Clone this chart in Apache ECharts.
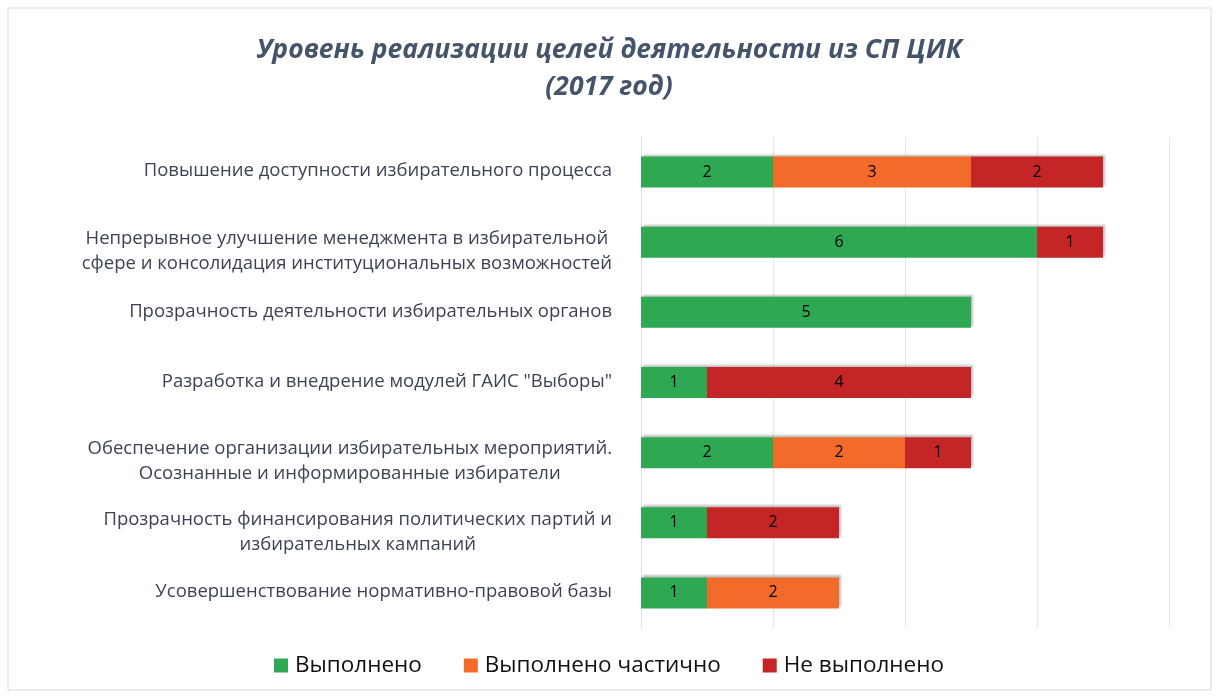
<!DOCTYPE html>
<html>
<head>
<meta charset="utf-8">
<script src="https://cdn.jsdelivr.net/npm/echarts@6/dist/echarts.min.js"></script>
<style>
  html, body { margin: 0; padding: 0; background: #fff; }
  #chart { width: 1218px; height: 698px; }
</style>
</head>
<body>
<div id="chart"></div>
<script>
const categories = [
  "Повышение доступности избирательного процесса",
  "Непрерывное улучшение менеджмента в избирательной\nсфере и консолидация институциональных возможностей",
  "Прозрачность деятельности избирательных органов",
  "Разработка и внедрение модулей ГАИС \"Выборы\"",
  "Обеспечение организации избирательных мероприятий.\nОсознанные и информированные избиратели",
  "Прозрачность финансирования политических партий и\nизбирательных кампаний",
  "Усовершенствование нормативно-правовой базы"
];
const done = [2, 6, 5, 1, 2, 1, 1];
const partly = [3, null, null, null, 2, null, 2];
const notDone = [2, 1, null, 4, 1, 2, null];

const seriesNames = ["Выполнено", "Выполнено частично", "Не выполнено"];
const colors = ["#2ea852", "#f26b2b", "#c42628"];
const font = "'Open Sans', 'Noto Sans', sans-serif";

const chart = echarts.init(document.getElementById("chart"));

function barSeries(name, data, color) {
  return {
    name: name,
    type: "bar",
    stack: "total",
    barWidth: 31,
    data: data,
    itemStyle: {
      color: color,
      shadowColor: "rgba(0,0,0,0.25)",
      shadowOffsetX: 2,
      shadowOffsetY: -2,
      shadowBlur: 2,
    },
    label: {
      show: true,
      position: "inside",
      color: "#000",
      fontFamily: font,
      fontSize: 16,
      formatter: (p) => (p.value ? p.value : ""),
    },
  };
}

// two-line labels sit a bit lower than the bar in the original
const yData = categories.map((c) => ({
  value: c,
  textStyle: { padding: c.indexOf("\n") >= 0 ? [18, 0, 0, 0] : [0, 0, 2, 0] },
}));

chart.setOption({
  animation: false,
  backgroundColor: "#fff",
  color: colors,
  title: {
    text: "Уровень реализации целей деятельности из СП ЦИК\n(2017 год)",
    left: "center",
    top: 27,
    textStyle: {
      fontFamily: font,
      fontStyle: "italic",
      fontWeight: "bold",
      fontSize: 26.5,
      lineHeight: 37,
      color: "#44546a",
    },
  },
  legend: {
    bottom: 16,
    left: "center",
    itemWidth: 14,
    itemHeight: 14,
    itemGap: 42,
    icon: "rect",
    data: seriesNames,
    textStyle: {
      fontFamily: font,
      fontSize: 22.5,
      color: "#111",
      padding: [0, 0, 0, 2],
    },
  },
  grid: {
    left: 641,
    right: 49,
    top: 137,
    bottom: 70,
    containLabel: false,
  },
  xAxis: {
    type: "value",
    min: 0,
    max: 8,
    interval: 2,
    axisLabel: { show: false },
    axisLine: { show: false },
    axisTick: { show: false },
    splitLine: { lineStyle: { color: "#e6e6e6" } },
  },
  yAxis: {
    type: "category",
    inverse: true,
    data: yData,
    axisLine: { show: true, lineStyle: { color: "#e0e0e0" } },
    axisTick: { show: false },
    axisLabel: {
      margin: 29,
      align: "right",
      formatter: (v) => v.split("\n").map((s) => "{c|" + s + "}").join("\n"),
      rich: {
        c: {
          align: "center",
          fontFamily: font,
          fontSize: 18.5,
          lineHeight: 25,
          color: "#3c4454",
        },
      },
    },
  },
  graphic: [
    {
      type: "rect",
      shape: { x: 8, y: 8, width: 1203, height: 682 },
      style: { fill: "none", stroke: "#d9d9d9", lineWidth: 1 },
      silent: true,
    },
  ],
  series: [
    barSeries(seriesNames[0], done, colors[0]),
    barSeries(seriesNames[1], partly, colors[1]),
    barSeries(seriesNames[2], notDone, colors[2]),
  ],
});
</script>
</body>
</html>
